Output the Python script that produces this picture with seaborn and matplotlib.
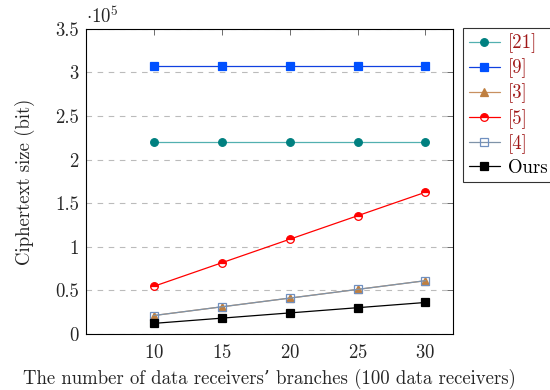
import matplotlib
matplotlib.use("Agg")
import matplotlib.pyplot as plt
import seaborn as sns
import pandas as pd
from matplotlib.ticker import FuncFormatter

branches = [10, 15, 20, 25, 30]
ref21 = [2.2e5, 2.2e5, 2.2e5, 2.2e5, 2.2e5]
ref9 = [3.07e5, 3.07e5, 3.07e5, 3.07e5, 3.07e5]
ref3 = [0.21e5, 0.31e5, 0.41e5, 0.51e5, 0.61e5]
ref5 = [0.545e5, 0.815e5, 1.085e5, 1.355e5, 1.625e5]
ref4 = [0.21e5, 0.31e5, 0.41e5, 0.51e5, 0.61e5]
ours = [0.12e5, 0.18e5, 0.24e5, 0.30e5, 0.36e5]

labels = ["[21]", "[9]", "[3]", "[5]", "[4]", "Ours"]
yticks = [0, 0.5e5, 1e5, 1.5e5, 2e5, 2.5e5, 3e5, 3.5e5]

sns.set_theme(style="white")
plt.rcParams["font.family"] = ["cmr10", "DejaVu Serif"]
plt.rcParams["mathtext.fontset"] = "cm"
plt.rcParams["axes.formatter.use_mathtext"] = True

FS = 13.5
fig = plt.figure(figsize=(5.5, 3.9), dpi=100)
ax = fig.add_axes([0.156, 0.144, 0.667, 0.782])

styles = [
    dict(data=ref21, color="#52b0b0", marker="o", mfc="#008080", mec="#008080", ms=5.5),
    dict(data=ref9, color="#1040e0", marker="s", mfc="#0050ff", mec="#0050ff", ms=5.5),
    dict(data=ref3, color="#c89060", marker="^", mfc="#bf7f40", mec="#bf7f40", ms=5.5),
    dict(data=ref5, color="#ff0000", marker="o", mfc="#ff0000", mec="#ff0000", ms=5.5,
         fillstyle="top", mfcalt="white"),
    dict(data=ref4, color="#7f93a8", marker="s", mfc="none", mec="#7090c0", ms=5.5),
    dict(data=ours, color="#000000", marker="s", mfc="#000000", mec="#000000", ms=5.5),
]

for lab, st in zip(labels, styles):
    df = pd.DataFrame({"x": branches, "y": st["data"]})
    kw = dict(marker=st["marker"], markersize=st["ms"], markerfacecolor=st["mfc"],
              markeredgecolor=st["mec"], markeredgewidth=0.9)
    if "fillstyle" in st:
        kw["fillstyle"] = st["fillstyle"]
        kw["markerfacecoloralt"] = st["mfcalt"]
    sns.lineplot(data=df, x="x", y="y", ax=ax, color=st["color"], linewidth=0.9,
                 label=lab, **kw)

ax.set_xlim(5, 32)
ax.set_ylim(0, 3.5e5)
ax.set_xticks(branches)
ax.set_yticks(yticks)
ax.yaxis.set_major_formatter(FuncFormatter(lambda v, p: f"{v/1e5:g}"))
ax.tick_params(direction="in", length=4, width=0.6, top=True, right=True,
               labelsize=FS, color="#555555", pad=5)
ax.tick_params(axis="x", pad=7)
ax.grid(axis="y", linestyle=(0, (5, 5)), color="#bbbbbb", linewidth=0.8)
ax.grid(axis="x", visible=False)
for s in ax.spines.values():
    s.set_color("black")
    s.set_linewidth(0.8)

ax.text(0.0, 1.005, r"$\cdot10^{5}$", transform=ax.transAxes, fontsize=FS,
        ha="left", va="bottom")
ax.set_xlabel("The number of data receivers\u2019 branches (100 data receivers)", fontsize=FS,
              labelpad=5)
ax.set_ylabel("Ciphertext size (bit)", fontsize=FS, labelpad=14)

leg = ax.legend(loc="upper left", bbox_to_anchor=(1.028, 1.003), frameon=True,
                fancybox=False, edgecolor="black", fontsize=FS, handlelength=1.7,
                borderpad=0.3, labelspacing=0.28, handletextpad=0.4, borderaxespad=0)
leg.get_frame().set_linewidth(0.8)
for t, lab in zip(leg.get_texts(), labels):
    t.set_color("black" if lab == "Ours" else "#a01818")

fig.savefig("out.png", dpi=100)
